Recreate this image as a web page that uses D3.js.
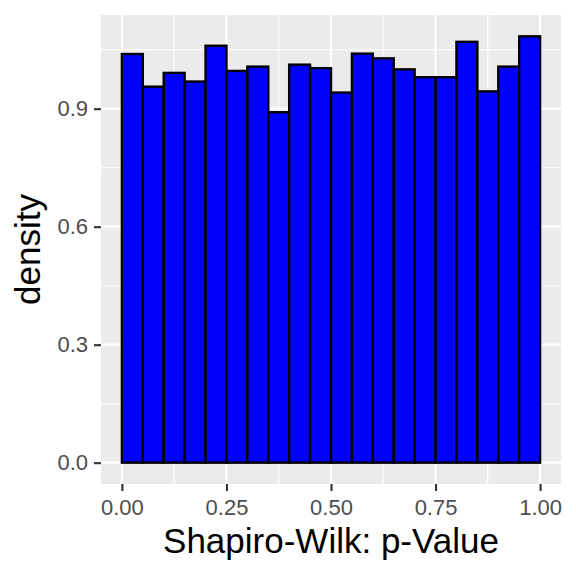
<!DOCTYPE html>
<html>
<head>
<meta charset="utf-8">
<script src="https://cdn.jsdelivr.net/npm/d3@7"></script>
<style>
  body { margin: 0; background: #fff; }
  text { font-family: "Liberation Sans", Arial, sans-serif; }
</style>
</head>
<body>
<script>
// histogram bins: left edges of each 0.05 wide bin and the density in it
var binStart = [0.00, 0.05, 0.10, 0.15, 0.20, 0.25, 0.30, 0.35, 0.40, 0.45,
                0.50, 0.55, 0.60, 0.65, 0.70, 0.75, 0.80, 0.85, 0.90, 0.95];
var density = [1.039, 0.956, 0.991, 0.969, 1.060, 0.996, 1.007, 0.891, 1.012, 1.003,
               0.941, 1.040, 1.028, 1.000, 0.980, 0.980, 1.070, 0.944, 1.007, 1.084];
var binWidth = 0.05;

var xTicks = [0, 0.25, 0.5, 0.75, 1];
var xMinor = [0.125, 0.375, 0.625, 0.875];
var yTicks = [0, 0.3, 0.6, 0.9];
var yMinor = [0.15, 0.45, 0.75, 1.05];

var W = 576, H = 576;
var panel = {left: 101, right: 561, top: 15, bottom: 484};

var svg = d3.select("body").append("svg")
  .attr("width", W)
  .attr("height", H);

// ggplot style expansion of 5% on each side
var xLo = 0, xHi = 1;
var xPad = (xHi - xLo) * 0.05;
var x = d3.scaleLinear()
  .domain([xLo - xPad, xHi + xPad])
  .range([panel.left, panel.right]);

var yMax = d3.max(density);
var yPad = yMax * 0.05;
var y = d3.scaleLinear()
  .domain([-yPad, yMax + yPad])
  .range([panel.bottom, panel.top]);

// panel background
svg.append("rect")
  .attr("x", panel.left)
  .attr("y", panel.top)
  .attr("width", panel.right - panel.left)
  .attr("height", panel.bottom - panel.top)
  .attr("fill", "#EBEBEB");

// minor grid
svg.selectAll(".xminor").data(xMinor).enter().append("line")
  .attr("x1", d => x(d)).attr("x2", d => x(d))
  .attr("y1", panel.top).attr("y2", panel.bottom)
  .attr("stroke", "#fff").attr("stroke-width", 1.07);
svg.selectAll(".yminor").data(yMinor).enter().append("line")
  .attr("y1", d => y(d)).attr("y2", d => y(d))
  .attr("x1", panel.left).attr("x2", panel.right)
  .attr("stroke", "#fff").attr("stroke-width", 1.07);

// major grid
svg.selectAll(".xmajor").data(xTicks).enter().append("line")
  .attr("x1", d => x(d)).attr("x2", d => x(d))
  .attr("y1", panel.top).attr("y2", panel.bottom)
  .attr("stroke", "#fff").attr("stroke-width", 2.13);
svg.selectAll(".ymajor").data(yTicks).enter().append("line")
  .attr("y1", d => y(d)).attr("y2", d => y(d))
  .attr("x1", panel.left).attr("x2", panel.right)
  .attr("stroke", "#fff").attr("stroke-width", 2.13);

// bars
svg.selectAll(".bar").data(density).enter().append("rect")
  .attr("class", "bar")
  .attr("x", (d, i) => x(binStart[i]))
  .attr("width", (d, i) => x(binStart[i] + binWidth) - x(binStart[i]))
  .attr("y", d => y(d))
  .attr("height", d => y(0) - y(d))
  .attr("fill", "#0000FF")
  .attr("stroke", "#000")
  .attr("stroke-width", 2.4);

// axes
var xAxis = d3.axisBottom(x)
  .tickValues(xTicks)
  .tickFormat(d3.format(".2f"))
  .tickSize(7)
  .tickPadding(7);
var gx = svg.append("g")
  .attr("transform", "translate(0," + panel.bottom + ")")
  .call(xAxis);

var yAxis = d3.axisLeft(y)
  .tickValues(yTicks)
  .tickFormat(d3.format(".1f"))
  .tickSize(7)
  .tickPadding(6);
var gy = svg.append("g")
  .attr("transform", "translate(" + panel.left + ",0)")
  .call(yAxis);

[gx, gy].forEach(function(g) {
  g.select(".domain").remove();
  g.selectAll(".tick line").attr("stroke", "#333333").attr("stroke-width", 2.13);
  g.selectAll(".tick text")
    .attr("fill", "#4D4D4D")
    .style("font-size", "22px");
});
gx.selectAll(".tick text").attr("dy", "0.78em");

// axis titles
svg.append("text")
  .attr("x", (panel.left + panel.right) / 2)
  .attr("y", 553)
  .attr("text-anchor", "middle")
  .style("font-size", "35px")
  .attr("fill", "#000")
  .text("Shapiro-Wilk: p-Value");

svg.append("text")
  .attr("transform", "translate(40," + ((panel.top + panel.bottom) / 2) + ") rotate(-90)")
  .attr("text-anchor", "middle")
  .style("font-size", "35px")
  .attr("fill", "#000")
  .text("density");
</script>
</body>
</html>
